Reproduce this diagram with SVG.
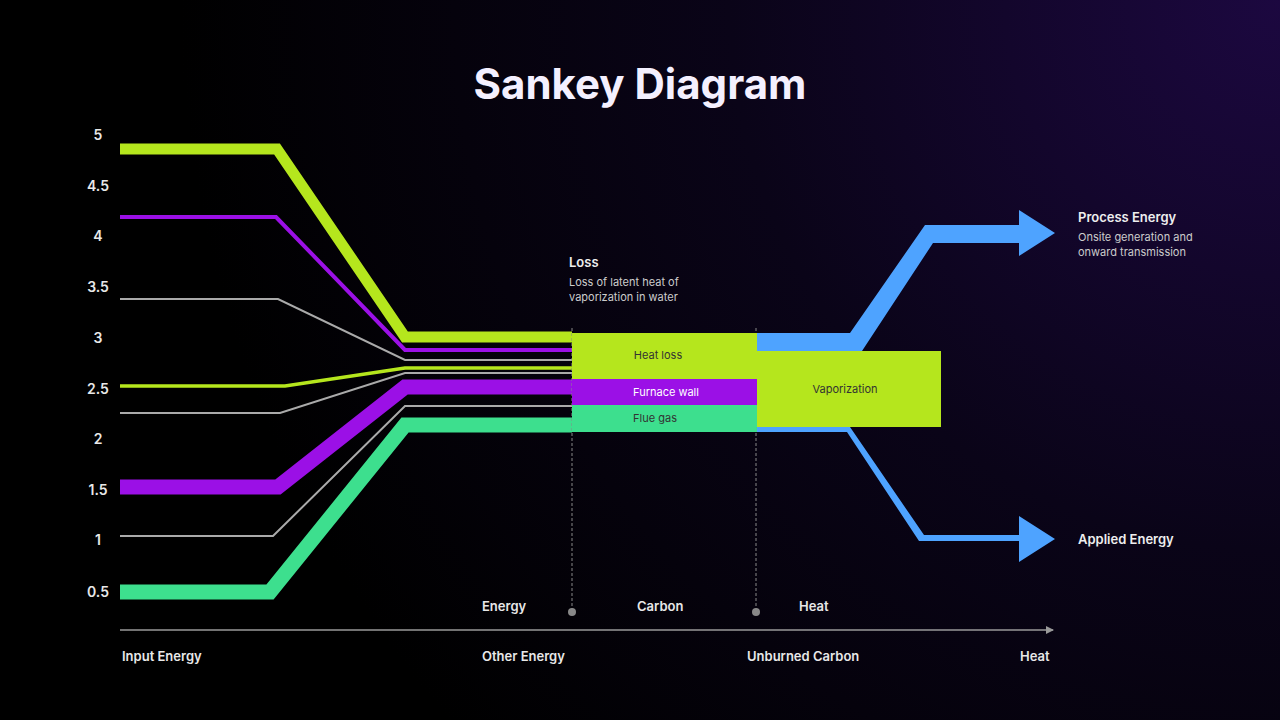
<svg xmlns="http://www.w3.org/2000/svg" width="1280" height="720" viewBox="0 0 1280 720">
<defs>
<radialGradient id="bg" cx="1280" cy="0" r="1100" gradientUnits="userSpaceOnUse">
<stop offset="0" stop-color="#1c0840"/><stop offset="0.5" stop-color="#0a0418"/><stop offset="1" stop-color="#000000"/>
</radialGradient>
<marker id="ax" markerWidth="8" markerHeight="8" refX="7" refY="4" orient="auto" markerUnits="userSpaceOnUse"><path d="M0,0 L8,4 L0,8 z" fill="#9a9a9a"/></marker>
<style>
text{font-family:Inter,"Open Sans","Liberation Sans",sans-serif}
.yl{fill:#e8e8e8;font-size:14px;font-weight:600;text-anchor:middle}
.xl{fill:#e8e8e8;font-size:13px;font-weight:600}
.bl{fill:#333;font-size:11px;text-anchor:middle}
.f{fill:none;stroke-linejoin:miter}
</style>
</defs>
<rect width="1280" height="720" fill="url(#bg)"/>
<text x="640" y="99" fill="#f4f0ff" font-size="42" font-weight="700" text-anchor="middle" font-family="Poppins,'Open Sans','Liberation Sans',sans-serif">Sankey Diagram</text>
<g id="yaxis">
<text class="yl" x="98" y="140">5</text><text class="yl" x="98" y="191">4.5</text><text class="yl" x="98" y="241">4</text><text class="yl" x="98" y="292">3.5</text><text class="yl" x="98" y="343">3</text><text class="yl" x="98" y="394">2.5</text><text class="yl" x="98" y="444">2</text><text class="yl" x="98" y="495">1.5</text><text class="yl" x="98" y="545">1</text><text class="yl" x="98" y="597">0.5</text>
</g>
<g id="connectors">
<polyline class="f" points="120,149 277,149 405,337 572,337" stroke="#b5e61d" stroke-width="11"/>
<polyline class="f" points="120,217 276,217 405,350 572,350" stroke="#9b10e6" stroke-width="4"/>
<polyline class="f" points="120,299 278,299 405,360 572,360" stroke="#aaaaaa" stroke-width="2"/>
<polyline class="f" points="120,386 285,386 405,368 572,368" stroke="#b5e61d" stroke-width="3.5"/>
<polyline class="f" points="120,413 280,413 405,373 572,373" stroke="#aaaaaa" stroke-width="2"/>
<polyline class="f" points="120,487 278,487 405,387 572,387" stroke="#9b10e6" stroke-width="15"/>
<polyline class="f" points="120,536 273,536 405,406 572,406" stroke="#aaaaaa" stroke-width="2"/>
<polyline class="f" points="120,592 270,592 405,425 572,425" stroke="#3ddf8e" stroke-width="15"/>
<polygon points="757,333 850,333 925,225 1019,225 1019,210 1055,233 1019,256 1019,243 933,243 862,351 757,351" fill="#4ea3ff"/>
<polygon points="757,427 850,427 924,535 1019,535 1019,516 1055,539 1019,562 1019,541 919,541 847,432 757,432" fill="#4ea3ff"/>
<line x1="572" y1="328" x2="572" y2="612" stroke="#888" stroke-width="1" stroke-dasharray="3,2"/>
<line x1="756" y1="328" x2="756" y2="612" stroke="#888" stroke-width="1" stroke-dasharray="3,2"/>
<circle cx="572" cy="612" r="4" fill="#888"/><circle cx="756" cy="612" r="4" fill="#888"/>
<line x1="120" y1="630" x2="1053" y2="630" stroke="#9a9a9a" stroke-width="1.5" marker-end="url(#ax)"/>
</g>
<g id="heatloss"><rect x="572" y="333" width="185" height="46" fill="#b5e61d"/><text class="bl" x="658" y="359">Heat loss</text></g>
<g id="furnace"><rect x="572" y="379" width="185" height="26" fill="#9b10e6"/><text class="bl" x="666" y="396" fill="#fff" style="fill:#fff">Furnace wall</text></g>
<g id="flue"><rect x="572" y="405" width="185" height="27" fill="#3ddf8e"/><text class="bl" x="655" y="422">Flue gas</text></g>
<g id="vapor"><rect x="757" y="351" width="184" height="76" fill="#b5e61d"/><text class="bl" x="845" y="393">Vaporization</text></g>
<g id="loss">
<text x="569" y="267" fill="#eee" font-size="13" font-weight="600">Loss</text>
<text x="569" y="286" fill="#ccc" font-size="11">Loss of latent heat of</text>
<text x="569" y="301" fill="#ccc" font-size="11">vaporization in water</text>
</g>
<g id="process">
<text x="1078" y="222" fill="#eee" font-size="13" font-weight="600">Process Energy</text>
<text x="1078" y="241" fill="#ccc" font-size="11">Onsite generation and</text>
<text x="1078" y="256" fill="#ccc" font-size="11">onward transmission</text>
</g>
<g id="applied"><text x="1078" y="544" fill="#eee" font-size="13" font-weight="600">Applied Energy</text></g>
<g id="xlabels">
<text class="xl" x="482" y="611">Energy</text><text class="xl" x="637" y="611">Carbon</text><text class="xl" x="799" y="611">Heat</text>
<text class="xl" x="122" y="661">Input Energy</text><text class="xl" x="482" y="661">Other Energy</text><text class="xl" x="747" y="661">Unburned Carbon</text><text class="xl" x="1020" y="661">Heat</text>
</g>
</svg>
